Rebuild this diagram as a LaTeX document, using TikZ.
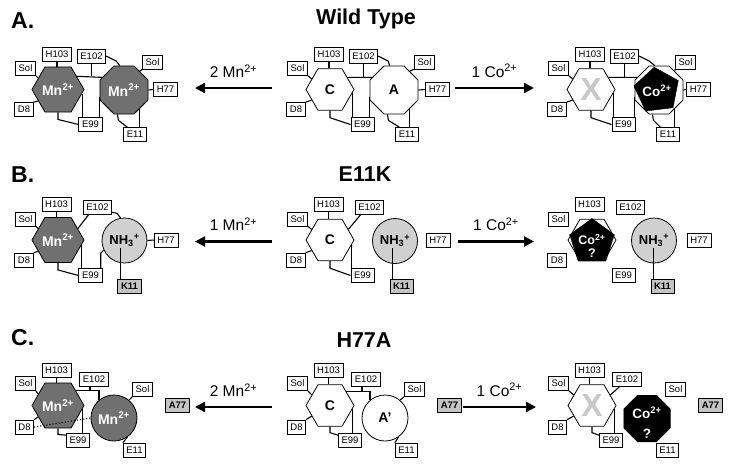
\documentclass[tikz,border=0pt]{standalone}
\usepackage{fontspec}
\setmainfont{Liberation Sans}
\usetikzlibrary{shapes.geometric,calc,arrows.meta}
\definecolor{mn}{HTML}{707070}
\definecolor{nh}{HTML}{D0D0D0}
\definecolor{kb}{HTML}{C4C4C4}
\definecolor{xg}{HTML}{C8C8C8}
\tikzset{
  lbl/.style={draw, fill=white, line width=0.7pt, font=\fontsize{9.5}{10}\selectfont, inner xsep=3.2pt, inner ysep=0pt, minimum height=14pt},
  glbl/.style={lbl, fill=kb, font=\fontsize{9.5}{10}\selectfont\bfseries},
  conn/.style={line width=1.1pt},
  shp/.style={draw, line width=0.8pt, inner sep=0pt, fill=white, font=\fontsize{14}{14}\selectfont\bfseries},
  hexa/.style={shp, regular polygon, regular polygon sides=6, minimum size=48pt},
  octa/.style={shp, regular polygon, regular polygon sides=8, minimum size=52pt},
  penta/.style={regular polygon, regular polygon sides=5, minimum size=47pt, inner sep=0pt, fill=black, draw=black},
  ringc/.style={shp, circle, minimum size=45pt},
  metal/.style={fill=mn, text=white},
  wtxt/.style={text=white, font=\fontsize{13.5}{13}\selectfont\bfseries, align=center, inner sep=0pt},
  bigarrow/.style={line width=2.3pt, -{Triangle[length=10pt,width=10pt]}},
  arrlbl/.style={font=\fontsize{15.5}{16}\selectfont, above=9.5pt, inner sep=0pt},
  ttl/.style={font=\fontsize{21.5}{22}\selectfont\bfseries},
  ltr/.style={font=\fontsize{23}{24}\selectfont\bfseries, anchor=base west, inner sep=0pt},
}
\newcommand\hexbase[1]{%
  \draw[conn] (#1sa.south east) -- (#1h.150);
  \draw[conn] (#1hc.south) -- (#1hc.south |- #1h.north);
  \draw[conn] (#1d.north east) -- (#1h.210);
}
% Row A panel: #1 prefix, #2 hex opts, #3 hex text, #4 oct opts, #5 oct text, #6 oct x
\newcommand\rowApanel[6]{%
  \node[hexa,#2] (#1h) at (58,89.5) {#3};
  \node[octa,#4] (#1o) at (#6,90) {#5};
  \node[lbl] (#1sa) at (25.5,68.5) {Sol};
  \node[lbl] (#1hc) at (57,54.5) {H103};
  \node[lbl] (#1ea) at (91.5,56) {E102};
  \node[lbl] (#1sb) at (152.5,62) {Sol};
  \node[lbl] (#1hs) at (165.5,89.5) {H77};
  \node[lbl] (#1d) at (24,109.5) {D8};
  \node[lbl] (#1e9) at (90.5,124.5) {E99};
  \node[lbl] (#1e1) at (135,134.5) {E11};
  \hexbase{#1}
  \draw[conn] (#1h.35) -- (#1o.150);
  \draw[conn] (#1ea.south) -- (#1ea.south |- #1h.35);
  \draw[conn] (#1ea.east) -- ++(10,5) -- (#1o.100);
  \draw[conn] (#1h.south) -- ++(0,7) -- (#1e9.west);
  \draw[conn] (#1h.-10) -- (#1h.-10 |- #1e9.north);
  \draw[conn] (#1o.195) -- (#1o.195 |- #1e9.north);
  \draw[conn] (#1o.255) -- ++(1,6) -- ($(#1e1.north west)+(4,0)$);
  \draw[conn] (#1o.-50) -- (#1o.-50 |- #1e1.north);
  \draw[conn] (#1sb.south west) -- (#1o.50);
  \draw[conn] (#1hs.west) -- (#1o.east);
}
\newcommand\rowBboxes[1]{%
  \node[lbl] (#1sa) at (25.5,219) {Sol};
  \node[lbl] (#1hc) at (56.5,204.5) {H103};
  \node[lbl] (#1ea) at (97.5,207) {E102};
  \node[lbl] (#1hs) at (166,240) {H77};
  \node[lbl] (#1d) at (24,260) {D8};
  \node[lbl] (#1e9) at (90.5,275.5) {E99};
  \node[glbl] (#1k) at (129.5,286) {K11};
}
\newcommand\hexconnB[1]{%
  \hexbase{#1}
  \draw[conn] (#1h.30) -- ($(#1ea.south west)+(6,0)$);
  \draw[conn] (#1h.south) -- ++(0,7) -- (#1e9.west);
  \draw[conn] (#1h.-12) -- (#1h.-12 |- #1e9.north);
}
\newcommand\kline[1]{%
  \coordinate (#1kt) at ($(#1k.north west)+(3,0)$);
  \coordinate (#1kc) at ($(#1c.center)+(0,7)$);
  \draw[conn] (#1kt) -- (#1kt |- #1kc);
}
\newcommand\rowCboxes[1]{%
  \node[lbl] (#1sa) at (25.5,383.5) {Sol};
  \node[lbl] (#1hc) at (56.5,370) {H103};
  \node[lbl] (#1ea) at (94,379.5) {E102};
  \node[lbl] (#1sb) at (142.5,389.5) {Sol};
  \node[glbl] (#1a) at (177.5,405) {A77};
  \node[lbl] (#1d) at (24.5,427) {D8};
  \node[lbl] (#1e9) at (78,440.5) {E99};
  \node[lbl] (#1e1) at (134.5,450) {E11};
}
\newcommand\hexconnC[1]{%
  \hexbase{#1}
  \coordinate (#1ev) at ($(#1ea.south)+(-4,0)$);
  \draw[conn] (#1h.40) -- (#1h.40 -| #1c.130) -- (#1c.130);
  \draw[conn] (#1ev) -- (#1ev |- #1h.40);
  \draw[conn] (#1h.south) -- ++(0,6) -- ($(#1e9.north west)+(0,2)$);
  \draw[conn] (#1h.-8) -- (#1h.-8 |- #1e9.north);
  \draw[conn] (#1sb.south west) -- (#1c.50);
  \draw[conn] (#1e1.north west) -- (#1c.-55);
}
\begin{document}
\begin{tikzpicture}[x=1pt,y=-1pt]
\fill[white] (0,0) rectangle (729,464);
\useasboundingbox (0,0) rectangle (729,464);

% ---------- titles ----------
\node[ltr] (la) at (11,28) {A.};
\node[ltr] (lb) at (11,182) {B.};
\node[ltr] (lc) at (11,345) {C.};
\node[ttl] (t1) at (366,19) {Wild Type};
\node[ttl] (t2) at (365,174) {E11K};
\node[ttl] (t3) at (364,340) {H77A};

% ---------- row A ----------
\begin{scope}
\rowApanel{al}{metal}{Mn\textsuperscript{2+}}{metal}{Mn\textsuperscript{2+}}{124}
\end{scope}
\begin{scope}[xshift=272pt]
\rowApanel{am}{}{C}{}{A}{122}
\end{scope}
\begin{scope}[xshift=533pt]
\rowApanel{ar}{text=xg, font=\fontsize{32}{32}\selectfont\bfseries}{X}{}{}{126}
\node[penta, shape border rotate=7] (arp) at (124,90.5) {};
\node[wtxt] (arpt) at (arp) {Co\textsuperscript{2+}};
\end{scope}
\coordinate (aL1) at (272,88); \coordinate (aL2) at (195,88);
\draw[bigarrow] (aL1) -- (aL2) node[midway, arrlbl] {2 Mn\textsuperscript{2+}};
\coordinate (aR1) at (455,88); \coordinate (aR2) at (534,88);
\draw[bigarrow] (aR1) -- (aR2) node[midway, arrlbl] {1 Co\textsuperscript{2+}};

% ---------- row B ----------
\begin{scope}
\node[hexa,metal] (blh) at (58,240) {Mn\textsuperscript{2+}};
\node[ringc,fill=nh,font=\fontsize{13}{13}\selectfont\bfseries] (blc) at (124.5,240.5) {NH\textsubscript{3}\textsuperscript{+}};
\rowBboxes{bl}
\hexconnB{bl}
\draw[conn] ($(blea.south east)+(0,-2)$) -- ++(5,1) -- (blc.100);
\path (blc.205) ++(-3,3) coordinate (blcq);
\draw[conn] (blc.205) -- (blcq) -- (blcq |- ble9.north);
\draw[conn] (blhs.west) -- (blc.east);
\kline{bl}
\end{scope}
\begin{scope}[xshift=272pt]
\node[hexa] (bmh) at (58,240) {C};
\node[ringc,fill=nh,font=\fontsize{13}{13}\selectfont\bfseries] (bmc) at (123,241) {NH\textsubscript{3}\textsuperscript{+}};
\rowBboxes{bm}
\hexconnB{bm}
\kline{bm}
\end{scope}
\begin{scope}[xshift=533pt]
\node[hexa] (brh) at (59,240) {};
\node[penta] (brp) at (59,242) {};
\node[wtxt, font=\fontsize{12.5}{13}\selectfont\bfseries] (brpt) at ($(brp)+(0,4)$) {Co\textsuperscript{2+}\\?};
\node[ringc,fill=nh,font=\fontsize{13}{13}\selectfont\bfseries] (brc) at (121,240.5) {NH\textsubscript{3}\textsuperscript{+}};
\rowBboxes{br}
\kline{br}
\end{scope}
\coordinate (bL1) at (272,241.5); \coordinate (bL2) at (195,241.5);
\draw[bigarrow] (bL1) -- (bL2) node[midway, arrlbl] {1 Mn\textsuperscript{2+}};
\coordinate (bR1) at (458,241.5); \coordinate (bR2) at (534,241.5);
\draw[bigarrow] (bR1) -- (bR2) node[midway, arrlbl] {1 Co\textsuperscript{2+}};

% ---------- row C ----------
\begin{scope}
\node[hexa,metal] (clh) at (58,405.5) {Mn\textsuperscript{2+}};
\node[ringc,metal,minimum size=46pt] (clc) at (114,418) {Mn\textsuperscript{2+}};
\rowCboxes{cl}
\hexconnC{cl}
\draw[dotted, line width=1.1pt] (cld.east) -- (clc.west);
\end{scope}
\begin{scope}[xshift=272pt]
\node[hexa] (cmh) at (58,405.5) {C};
\node[ringc,minimum size=46pt] (cmc) at (113,418) {A'};
\rowCboxes{cm}
\hexconnC{cm}
\end{scope}
\begin{scope}[xshift=533pt]
\node[hexa, text=xg, font=\fontsize{32}{32}\selectfont\bfseries] (crh) at (59,405.5) {X};
\node[octa, fill=black, minimum size=50pt] (crc) at (114,418.5) {};
\node[wtxt, font=\fontsize{13.5}{20}\selectfont\bfseries] (crct) at ($(crc)+(0,4)$) {Co\textsuperscript{2+}\\?};
\rowCboxes{cr}
\hexbase{cr}
\draw[conn] (crh.30) -- ($(crea.south west)+(7,0)$);
\draw[conn] (crh.south) -- ++(0,6) -- ($(cre9.north west)+(0,2)$);
\draw[conn] (crh.-8) -- (crh.-8 |- cre9.north);
\end{scope}
\coordinate (cL1) at (272,407); \coordinate (cL2) at (195,407);
\draw[bigarrow] (cL1) -- (cL2) node[midway, arrlbl] {2 Mn\textsuperscript{2+}};
\coordinate (cR1) at (463,407); \coordinate (cR2) at (536,407);
\draw[bigarrow] (cR1) -- (cR2) node[midway, arrlbl] {1 Co\textsuperscript{2+}};
\end{tikzpicture}
\end{document}
